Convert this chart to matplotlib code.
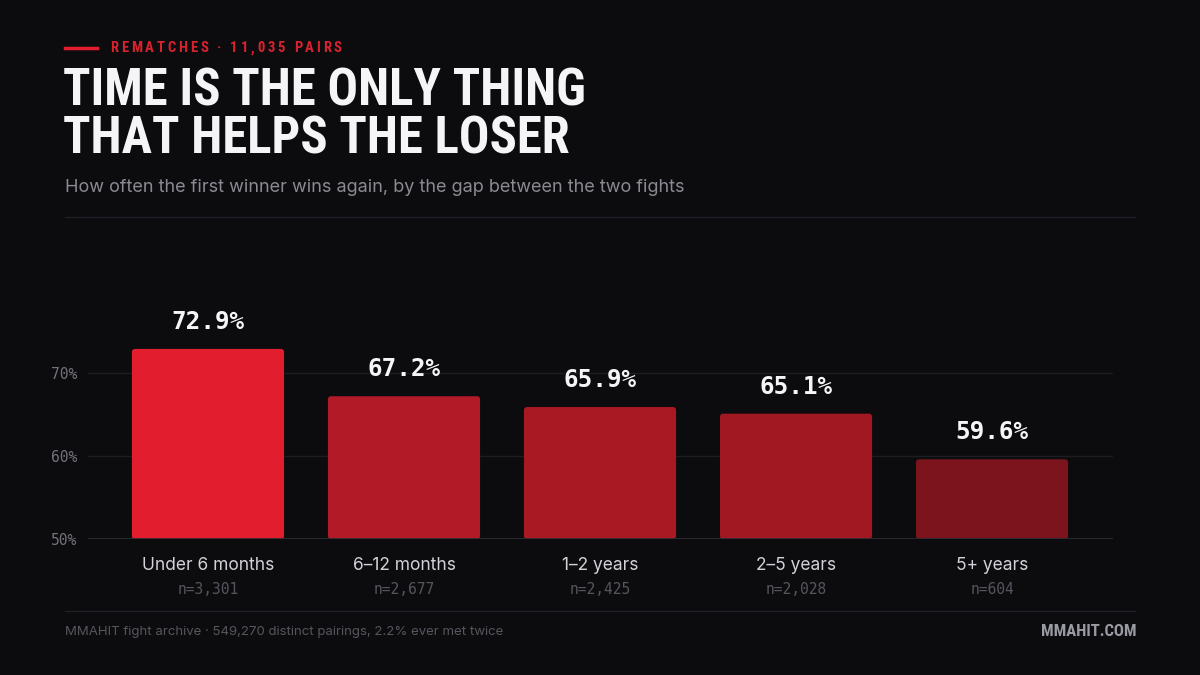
import matplotlib
matplotlib.use("Agg")
import matplotlib.pyplot as plt
from matplotlib.patches import FancyBboxPatch
from matplotlib.lines import Line2D

# data
categories = ["Under 6 months", "6\u201312 months", "1\u20132 years", "2\u20135 years", "5+ years"]
win_pct = [72.9, 67.2, 65.9, 65.1, 59.6]
sample_n = ["n=3,301", "n=2,677", "n=2,425", "n=2,028", "n=604"]
bar_colors = ["#E11D2E", "#B21A27", "#A91924", "#A11822", "#7B141D"]
y_ticks = [50, 60, 70]

BG = "#0C0C0F"
COND = ["Roboto Condensed", "Open Sans Condensed", "DejaVu Sans"]
MONO = ["DejaVu Sans Mono"]
SANS = ["Inter", "DejaVu Sans"]

fig = plt.figure(figsize=(12, 6.75), dpi=100, facecolor=BG)

# px -> figure coords helpers
def fx(px):
    return px / 1200

def fy(py):
    return 1 - py / 675

def spaced_text(x_px, y_px, s, tracking_px, **kw):
    # draw characters one by one to fake letter spacing
    r = fig.canvas.get_renderer()
    x = x_px
    for ch in s:
        t = fig.text(fx(x), fy(y_px), ch, va="center", ha="left", **kw)
        w = t.get_window_extent(renderer=r).width
        x += w + tracking_px

# header
fig.add_artist(Line2D([fx(65), fx(97)], [fy(48), fy(48)], color="#E11D2E", lw=2.5))
spaced_text(110, 48.5, "REMATCHES \u00b7 11,035 PAIRS", 2.8,
            color="#D8232F", fontsize=10.5, family=COND, fontweight="bold",
            fontstretch="condensed")

for txt, ypx in [("TIME IS THE ONLY THING", 91), ("THAT HELPS THE LOSER", 139)]:
    fig.text(fx(63), fy(ypx), txt, color="#F5F5F7", fontsize=36.5, family=COND,
             fontweight="bold", fontstretch="condensed", va="center", ha="left")
fig.text(fx(65), fy(188), "How often the first winner wins again, by the gap between the two fights",
         color="#8A8A92", fontsize=13, family=SANS, va="center", ha="left")
fig.add_artist(Line2D([fx(65), fx(1135)], [fy(217), fy(217)], color="#1F1F25", lw=1))

# footer
fig.add_artist(Line2D([fx(65), fx(1135)], [fy(611), fy(611)], color="#1F1F25", lw=1))
fig.text(fx(65), fy(632), "MMAHIT fight archive \u00b7 549,270 distinct pairings, 2.2% ever met twice",
         color="#55555D", fontsize=9.5, family=SANS, va="center", ha="left")
fig.text(fx(1136), fy(631), "MMAHIT.COM", color="#9A9AA2", fontsize=12, family=COND,
         fontweight="bold", fontstretch="condensed", va="center", ha="right")

# chart axes: baseline y=539px, 10pts = 83px
y_lo, y_hi = 50, 83
ax_top = 539 - (y_hi - y_lo) * 8.3
ax = fig.add_axes([fx(88), fy(539), fx(1113) - fx(88), (539 - ax_top) / 675])
ax.set_facecolor(BG)
x_lo, x_hi = -0.612, 4.617
ax.set_xlim(x_lo, x_hi)
ax.set_ylim(y_lo, y_hi)

for s in ax.spines.values():
    s.set_visible(False)
ax.set_yticks(y_ticks)
ax.set_yticklabels([f"{v}%" for v in y_ticks], family=MONO, color="#72727A", fontsize=10.5)
ax.tick_params(axis="y", length=0, pad=8)
ax.set_xticks([])
for v in y_ticks[1:]:
    ax.axhline(v, color="#1C1C22", lw=1, zorder=0)
ax.axhline(y_lo, color="#2C2C34", lw=2, zorder=3)

bar_w = 0.776
px_x = (x_hi - x_lo) / 1025
px_y = (y_hi - y_lo) / (539 - ax_top)
rad = 3 * px_x
for i, (v, c) in enumerate(zip(win_pct, bar_colors)):
    p = FancyBboxPatch((i - bar_w / 2, y_lo), bar_w, v - y_lo,
                       boxstyle=f"round,pad=0,rounding_size={rad}",
                       mutation_aspect=px_y / px_x, fc=c, ec="none", zorder=2)
    ax.add_patch(p)
    ax.text(i, v + 15 * px_y, f"{v:.1f}%", ha="center", va="bottom", color="#F5F5F7",
            fontsize=17.5, family=MONO, fontweight="bold")
    ax.text(i, y_lo - 26 * px_y, categories[i], ha="center", va="center", color="#D2D2D8",
            fontsize=12.5, family=SANS, clip_on=False)
    ax.text(i, y_lo - 51 * px_y, sample_n[i], ha="center", va="center", color="#55555D",
            fontsize=10.5, family=MONO, clip_on=False)

fig.savefig("out.png", dpi=100, facecolor=BG)
